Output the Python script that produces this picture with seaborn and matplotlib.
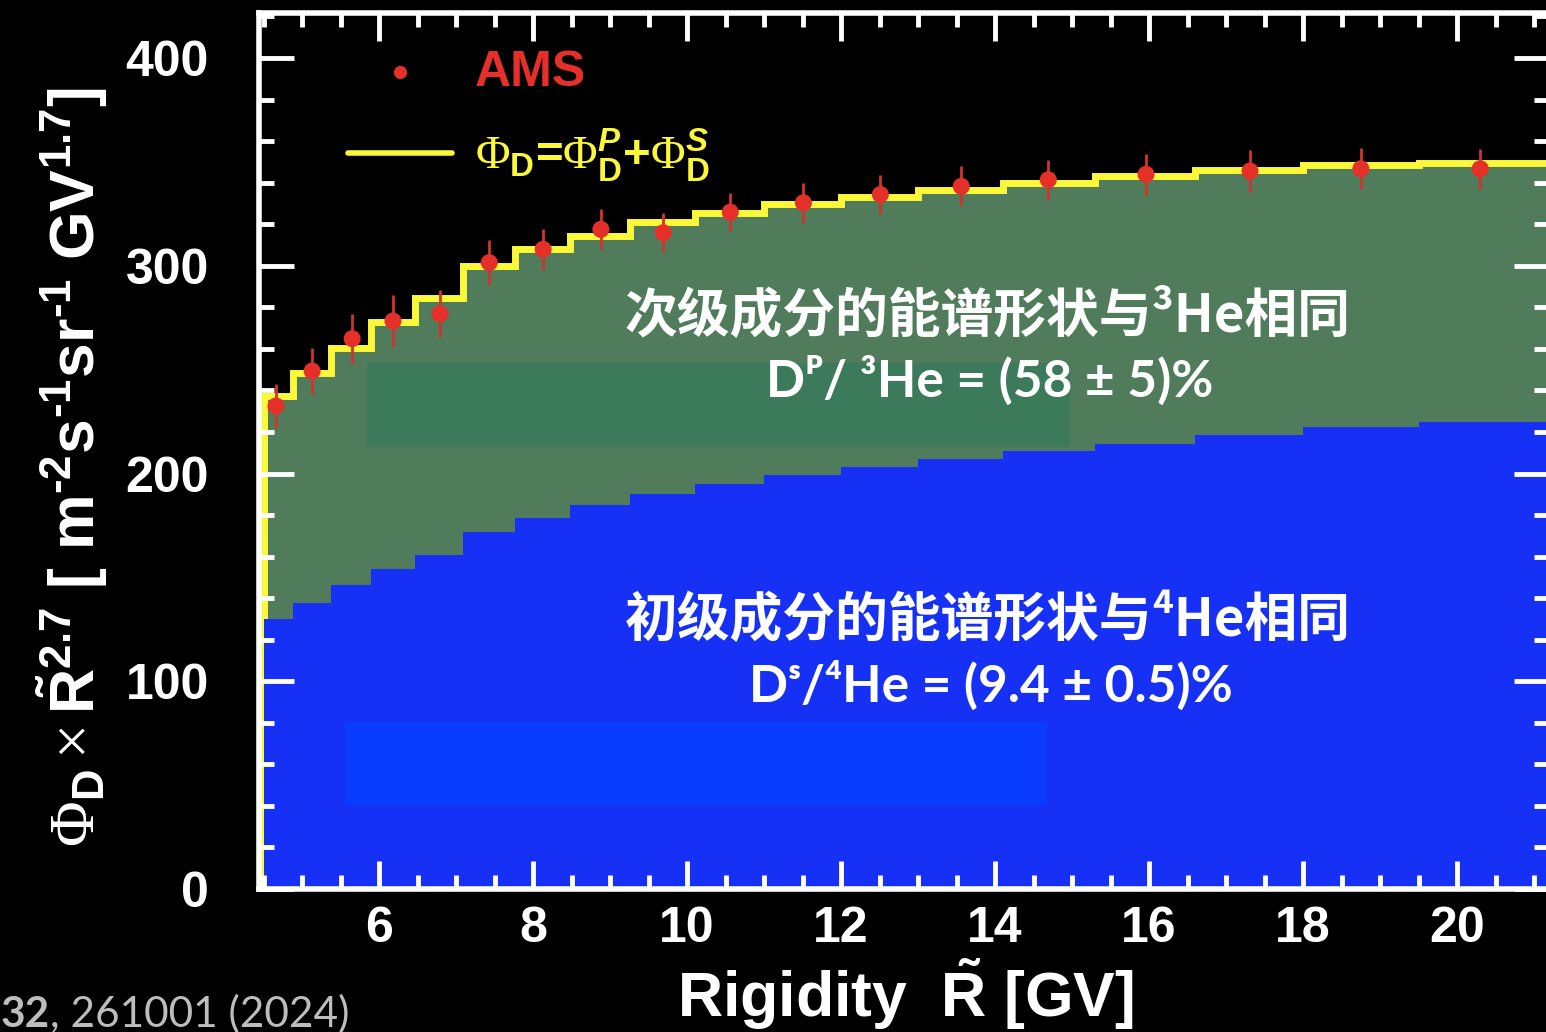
import numpy as np
import pandas as pd
import matplotlib
matplotlib.use("Agg")
import matplotlib.pyplot as plt
import seaborn as sns
from matplotlib.patches import Rectangle
from matplotlib.lines import Line2D
from matplotlib.ticker import MultipleLocator

# ---------------- data ----------------
bin_edges = [4.50, 4.88, 5.37, 5.90, 6.47, 7.09, 7.76, 8.48, 9.26, 10.1, 11.0,
             12.0, 13.0, 14.1, 15.3, 16.6, 18.0, 19.5, 21.3]
total_flux = [237.3, 248.5, 260.6, 273.1, 284.6, 300.0, 307.9, 314.3, 321.1,
              325.4, 329.5, 333.1, 336.3, 339.6, 343.2, 346.1, 348.5, 349.6]
primary_flux = [129.8, 137.8, 146.2, 153.9, 160.6, 172.0, 178.7, 184.8, 190.2,
                194.9, 199.1, 203.1, 206.8, 210.8, 214.3, 218.5, 222.2, 225.0]
ams_rigidity = [4.66, 5.13, 5.65, 6.18, 6.79, 7.43, 8.13, 8.88, 9.69, 10.56,
                11.51, 12.51, 13.56, 14.69, 15.96, 17.31, 18.75, 20.30]
ams_flux = [232.5, 249.3, 264.9, 273.4, 276.9, 301.5, 307.9, 317.5, 315.9,
            325.8, 330.3, 334.3, 338.2, 341.4, 344.0, 345.6, 346.7, 346.7]
ams_err = [10.4, 11.0, 12.0, 12.6, 11.4, 10.7, 9.9, 9.6, 9.5, 9.2, 9.6, 9.6,
           9.6, 9.6, 10.0, 10.0, 9.9, 9.6]

x_ticks = [6, 8, 10, 12, 14, 16, 18, 20]
y_ticks = [0, 100, 200, 300, 400]

# ---------------- style ----------------
GREEN = "#507c5c"
BLUE = "#1631f5"
YELLOW = "#fbf83a"
RED = "#e5302a"
RED_ERR = "#d0342c"

sns.set_theme(style="dark")
plt.rcParams.update({
    "figure.facecolor": "black",
    "axes.facecolor": "black",
    "savefig.facecolor": "black",
    "text.color": "white",
    "axes.edgecolor": "white",
    "mathtext.fontset": "custom",
    "mathtext.rm": "Liberation Sans:bold",
    "mathtext.bf": "Liberation Sans:bold",
    "mathtext.it": "Liberation Sans:italic:bold",
    "mathtext.sf": "Liberation Serif",
})
plt.rcParams["font.family"] = ["Liberation Sans", "Noto Sans CJK SC", "DejaVu Sans"]

W, H = 1546, 1032
fig = plt.figure(figsize=(W / 100, H / 100), dpi=100)


def fx(px):
    return px / W


def fy(py):
    return 1 - py / H


ax_left, ax_right, ax_top, ax_bottom = 259, 1549, 13, 889
ax = fig.add_axes([fx(ax_left), fy(ax_bottom), (ax_right - ax_left) / W,
                   (ax_bottom - ax_top) / H])

centers = [(a + b) / 2 for a, b in zip(bin_edges[:-1], bin_edges[1:])]
df_bins = pd.DataFrame({"center": centers, "total": total_flux,
                        "primary": primary_flux})
df_ams = pd.DataFrame({"R": ams_rigidity, "flux": ams_flux, "err": ams_err})

# secondary + primary (total) in green
sns.histplot(data=df_bins, x="center", weights="total", bins=bin_edges,
             element="step", fill=True, color=GREEN, alpha=1, linewidth=0,
             ax=ax, zorder=1)
# total outline in yellow
ax.stairs(df_bins["total"], bin_edges, baseline=0, color=YELLOW, lw=5,
          zorder=1.5)
# primary in blue
sns.histplot(data=df_bins, x="center", weights="primary", bins=bin_edges,
             element="step", fill=True, color=BLUE, alpha=1, linewidth=0,
             ax=ax, zorder=2)

# text background boxes (as in the slide)
ax.add_patch(Rectangle((fx(367), fy(447)), (1070 - 367) / W, (447 - 363) / H,
                       transform=fig.transFigure, color="#3b7a5a", lw=0,
                       zorder=2.5))
ax.add_patch(Rectangle((fx(345), fy(805)), (1047 - 345) / W, (805 - 722) / H,
                       transform=fig.transFigure, color="#0a3cff", lw=0,
                       zorder=2.5))

# AMS data
ax.errorbar(df_ams["R"], df_ams["flux"], yerr=df_ams["err"], fmt="none",
            ecolor=RED_ERR, elinewidth=2, capsize=0, zorder=4)
sns.scatterplot(data=df_ams, x="R", y="flux", color=RED, s=150,
                edgecolor="none", linewidth=0, ax=ax, zorder=5, legend=False)

# axes
ax.set_xlim(4.44, 4.44 + (ax_right - ax_left) / 77.0)
ax.set_ylim(0, (ax_bottom - ax_top) / 2.0775)
ax.set_xticks(x_ticks)
ax.set_yticks(y_ticks)
ax.set_xticklabels([str(v) for v in x_ticks])
ax.set_yticklabels([str(v) for v in y_ticks])
ax.xaxis.set_minor_locator(MultipleLocator(0.5))
ax.yaxis.set_minor_locator(MultipleLocator(20))
ax.set_xlabel("")
ax.set_ylabel("")
ax.grid(False)
for s in ax.spines.values():
    s.set_visible(True)
    s.set_color("white")
    s.set_linewidth(4)
    s.set_zorder(10)
ax.tick_params(which="both", direction="in", top=True, right=True,
               bottom=True, left=True, color="white", width=3.5,
               labelcolor="white", labelsize=36)
ax.tick_params(axis="x", which="major", length=20, pad=12)
ax.tick_params(axis="x", which="minor", length=10)
ax.tick_params(axis="y", which="major", length=25, pad=36)
ax.tick_params(axis="y", which="minor", length=11)
ax.xaxis.set_zorder(20)
ax.yaxis.set_zorder(20)
for lab in ax.get_xticklabels() + ax.get_yticklabels():
    lab.set_fontweight("bold")

# legend (drawn by hand, as in the figure)
fig.add_artist(Line2D([fx(400)], [fy(72)], marker="o", ms=9.5, color=RED,
                      mec="none", transform=fig.transFigure))
fig.text(fx(475), fy(73), "AMS", color=RED, fontsize=36, fontweight="bold",
         ha="left", va="center")
fig.add_artist(Line2D([fx(348), fx(452)], [fy(153), fy(153)], lw=4,
                      color=YELLOW, transform=fig.transFigure))
fig.text(fx(475), fy(155),
         r"$\mathsf{\Phi}_{\rm D}$=$\mathsf{\Phi}_{\rm D}^{\it P}$+$\mathsf{\Phi}_{\rm D}^{\it S}$",
         color=YELLOW, fontsize=34, fontweight="bold", ha="left",
         va="center")

# annotations
cjk = ["Noto Sans CJK SC", "DejaVu Sans"]
lat = ["Lato", "DejaVu Sans"]
fig.text(fx(988), fy(316), "次级成分的能谱形状与³He相同", family=cjk,
         fontsize=38, fontweight="bold", color="white", ha="center",
         va="center")
fig.text(fx(990), fy(381), "Dᴾ/ ³He = (58 ± 5)%", family=lat, fontsize=37,
         fontweight="bold", color="white", ha="center", va="center")
fig.text(fx(988), fy(620), "初级成分的能谱形状与⁴He相同", family=cjk,
         fontsize=38, fontweight="bold", color="white", ha="center",
         va="center")
fig.text(fx(991), fy(686), "Dˢ/⁴He = (9.4 ± 0.5)%", family=lat, fontsize=37,
         fontweight="bold", color="white", ha="center", va="center")

# axis titles
fig.text(fx(72), fy(467),
         r"$\mathsf{\Phi}_{\rm D}\,\mathsf{\times}\,\tilde{\rm R}^{2.7}$ [ m$^{\text{-}2}$s$^{\text{-}1}$sr$^{\text{-}1}$ GV$^{1.7}$]",
         rotation=90, ha="center", va="center", fontsize=45,
         fontweight="bold", color="white")
fig.text(fx(905), fy(1017), r"Rigidity  $\tilde{\rm R}$ [GV]", ha="center",
         va="baseline", fontsize=45, fontweight="bold", color="white")

# citation fragment
fig.text(fx(50), fy(1027), ", 261001 (2024)", family=lat, fontsize=30.5,
         color="#bdbdbd", ha="left", va="baseline")
fig.text(fx(50), fy(1027), "32", family=lat, fontsize=30.5, fontweight="bold",
         color="#bdbdbd", ha="right", va="baseline")

fig.savefig("out.png", dpi=100, facecolor="black")
